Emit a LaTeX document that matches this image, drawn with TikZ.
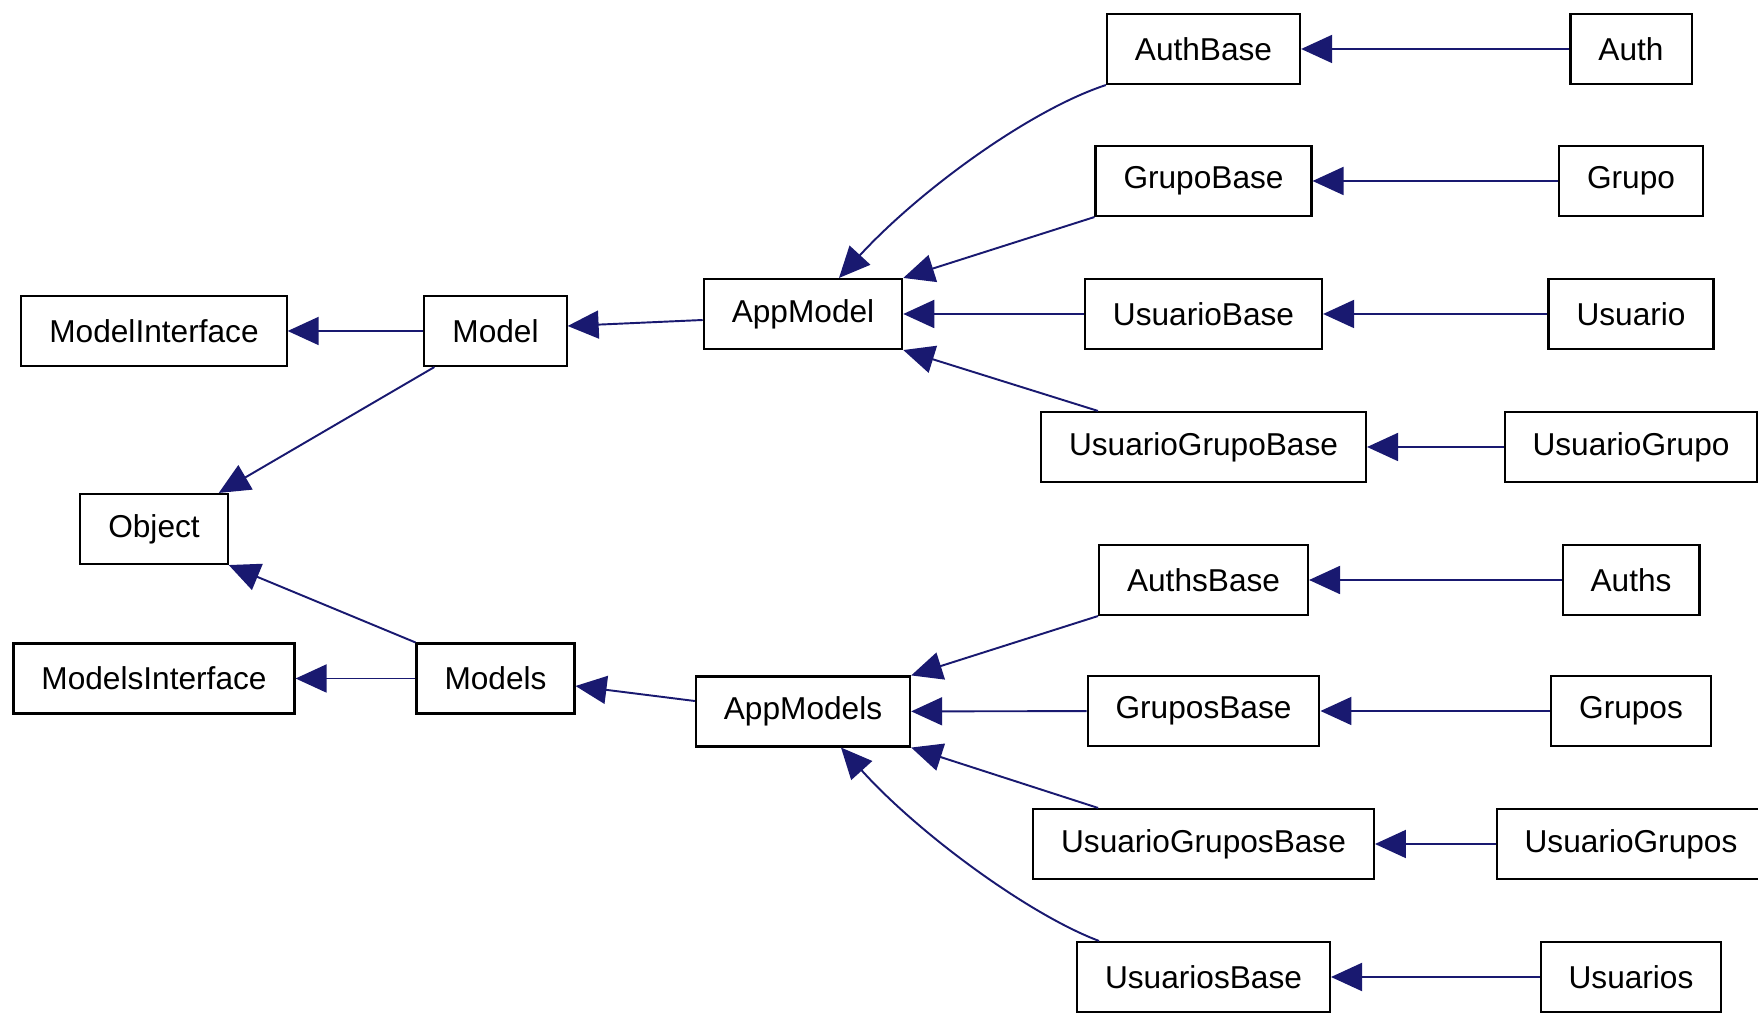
\documentclass[tikz,border=0pt]{standalone}
\usepackage{fontspec}
\setmainfont{Liberation Sans}
\usetikzlibrary{arrows.meta}
\definecolor{azulnoche}{HTML}{191970}
\tikzset{
	clase/.style={draw=black, fill=white, line width=1.2pt, minimum height=1.4cm, inner xsep=0.56cm, font=\fontsize{18}{20}\selectfont},
	hereda/.style={draw=azulnoche, line width=1.1pt, -{Triangle[length=0.62cm,width=0.56cm,fill=azulnoche]}},
}
\begin{document}
\begin{tikzpicture}
			\useasboundingbox (0,0) rectangle (35.16,20.38);
			% Raiz
				\node[clase] (ModelInterface) at (3.08,13.76) {ModelInterface};
				\node[clase] (Object) at (3.08,9.80) {Object};
				\node[clase] (ModelsInterface) at (3.08,6.81) {ModelsInterface};
				\node[clase] (Model) at (9.91,13.76) {Model};
				\node[clase] (Models) at (9.91,6.81) {Models};
			
			% Modelos de la app
				\node[clase] (AppModel) at (16.06,14.10) {AppModel};
				\node[clase] (AppModels) at (16.06,6.15) {AppModels};
			
			% Clases base
				\node[clase] (AuthBase) at (24.07,19.40) {AuthBase};
				\node[clase] (GrupoBase) at (24.07,16.76) {GrupoBase};
				\node[clase] (UsuarioBase) at (24.07,14.10) {UsuarioBase};
				\node[clase] (UsuarioGrupoBase) at (24.07,11.44) {UsuarioGrupoBase};
				\node[clase] (AuthsBase) at (24.07,8.78) {AuthsBase};
				\node[clase] (GruposBase) at (24.07,6.16) {GruposBase};
				\node[clase] (UsuarioGruposBase) at (24.07,3.50) {UsuarioGruposBase};
				\node[clase] (UsuariosBase) at (24.07,0.84) {UsuariosBase};
			
			% Clases finales
				\node[clase] (Auth) at (32.62,19.40) {Auth};
				\node[clase] (Grupo) at (32.62,16.76) {Grupo};
				\node[clase] (Usuario) at (32.62,14.10) {Usuario};
				\node[clase] (UsuarioGrupo) at (32.62,11.44) {UsuarioGrupo};
				\node[clase] (Auths) at (32.62,8.78) {Auths};
				\node[clase] (Grupos) at (32.62,6.16) {Grupos};
				\node[clase] (UsuarioGrupos) at (32.62,3.50) {UsuarioGrupos};
				\node[clase] (Usuarios) at (32.62,0.84) {Usuarios};
			
			% Herencia izquierda
				\draw[hereda] (Model) -- (ModelInterface);
				\draw[hereda] (Models) -- (ModelsInterface);
				\draw[hereda] ([xshift=0.22cm]Model.south west) -- ([xshift=-0.2cm]Object.north east);
				\draw[hereda] (Models.north west) -- (Object.south east);
				\draw[hereda] ([yshift=-0.12cm]AppModel.west) -- ([yshift=0.1cm]Model.east);
				\draw[hereda] ([yshift=0.21cm]AppModels.west) -- ([yshift=-0.15cm]Models.east);
			
			% Herencia de AppModel
				\draw[hereda] (AuthBase.south west) .. controls (20.6,18.18) and (18.4,16.58) .. ([xshift=0.72cm]AppModel.north);
				\draw[hereda] (GrupoBase.south west) -- (AppModel.north east);
				\draw[hereda] (UsuarioBase) -- (AppModel);
				\draw[hereda] ([xshift=1.16cm]UsuarioGrupoBase.north west) -- (AppModel.south east);
			
			% Herencia de AppModels
				\draw[hereda] (AuthsBase.south west) -- (AppModels.north east);
				\draw[hereda] (GruposBase) -- (AppModels);
				\draw[hereda] ([xshift=1.32cm]UsuarioGruposBase.north west) -- (AppModels.south east);
				\draw[hereda] ([xshift=0.46cm]UsuariosBase.north west) .. controls (20.6,2.08) and (18.4,3.68) .. ([xshift=0.76cm]AppModels.south);
			
			% Herencia derecha
				\draw[hereda] (Auth) -- (AuthBase);
				\draw[hereda] (Grupo) -- (GrupoBase);
				\draw[hereda] (Usuario) -- (UsuarioBase);
				\draw[hereda] (UsuarioGrupo) -- (UsuarioGrupoBase);
				\draw[hereda] (Auths) -- (AuthsBase);
				\draw[hereda] (Grupos) -- (GruposBase);
				\draw[hereda] (UsuarioGrupos) -- (UsuarioGruposBase);
				\draw[hereda] (Usuarios) -- (UsuariosBase);
		\end{tikzpicture}
\end{document}
